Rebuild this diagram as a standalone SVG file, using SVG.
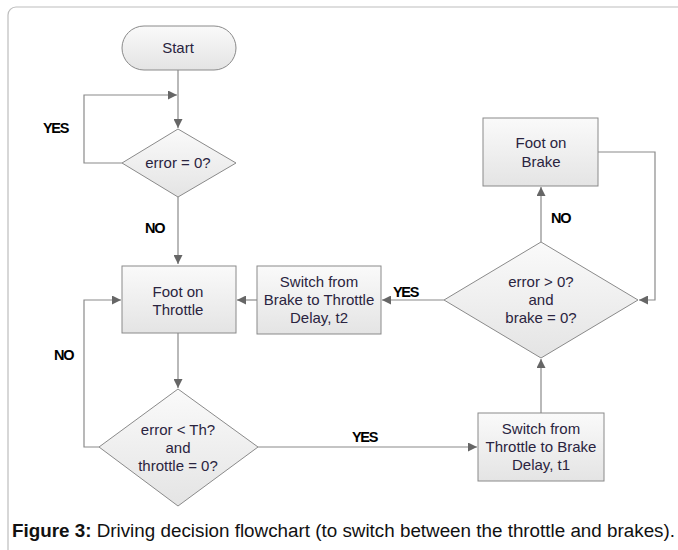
<svg xmlns="http://www.w3.org/2000/svg" width="678" height="550" viewBox="0 0 678 550">
<defs>
<linearGradient id="g" x1="0" y1="0" x2="0" y2="1">
<stop offset="0" stop-color="#fafafa"/>
<stop offset="1" stop-color="#e4e4e4"/>
</linearGradient>
<marker id="ah" viewBox="0 0 10 10" refX="10" refY="5" markerWidth="9" markerHeight="9" markerUnits="userSpaceOnUse" orient="auto">
<path d="M0,0 L10,5 L0,10 z" fill="#666"/>
</marker>
<style>
.n{fill:url(#g);stroke:#8a8a8a;stroke-width:1}
.t{font-family:"Liberation Sans",Arial,sans-serif;font-size:15px;fill:#2a2440;text-anchor:middle}
.c{fill:none;stroke:#8a8a8a;stroke-width:1.2}
.a{marker-end:url(#ah)}
.l{font-family:"Liberation Sans",Arial,sans-serif;font-size:14.5px;font-weight:bold;fill:#000;letter-spacing:-1.3px}
.cap{font-family:"Liberation Sans",Arial,sans-serif;font-size:18px;fill:#111}
</style>
</defs>
<rect x="8" y="7" width="690" height="560" rx="8" fill="#fff" stroke="#bdbdbd" stroke-width="1.2"/>
<g id="connectors">
<path class="c a" d="M178,70 V128"/>
<path class="c a" d="M122,163 H84 V95 H177"/>
<path class="c a" d="M178,197 V264"/>
<path class="c a" d="M178,333 V388"/>
<path class="c a" d="M99,447 H84 V300 H121"/>
<path class="c a" d="M258,447 H477"/>
<path class="c a" d="M541,413 V359"/>
<path class="c a" d="M444,300 H382"/>
<path class="c a" d="M257,300 H237"/>
<path class="c a" d="M541,242 V187"/>
<path class="c a" d="M598,152 H655 V300 H639"/>
</g>
<g id="labels">
<text class="l" x="43" y="133">YES</text>
<text class="l" x="145" y="233">NO</text>
<text class="l" x="54" y="360">NO</text>
<text class="l" x="352" y="442">YES</text>
<text class="l" x="393" y="297">YES</text>
<text class="l" x="551" y="223">NO</text>
</g>
<g id="start">
<rect class="n" x="122" y="26" width="114" height="44" rx="22"/>
<text class="t" x="178" y="53">Start</text>
</g>
<g id="d1">
<polygon class="n" points="178,129 236,163 178,197 122,163"/>
<text class="t" x="178" y="168">error = 0?</text>
</g>
<g id="throttle">
<rect class="n" x="122" y="266" width="114" height="67"/>
<text class="t" x="178" y="297">Foot on</text>
<text class="t" x="178" y="315">Throttle</text>
</g>
<g id="d2">
<polygon class="n" points="178,389 258,447 178,506 99,447"/>
<text class="t" x="178" y="435">error &lt; Th?</text>
<text class="t" x="178" y="453">and</text>
<text class="t" x="178" y="471">throttle = 0?</text>
</g>
<g id="b2t">
<rect class="n" x="257" y="266" width="124" height="68"/>
<text class="t" x="319" y="287">Switch from</text>
<text class="t" x="319" y="305">Brake to Throttle</text>
<text class="t" x="319" y="323">Delay, t2</text>
</g>
<g id="d3">
<polygon class="n" points="541,242 638,300 541,358 444,300"/>
<text class="t" x="541" y="287">error &gt; 0?</text>
<text class="t" x="541" y="305">and</text>
<text class="t" x="541" y="323">brake = 0?</text>
</g>
<g id="brake">
<rect class="n" x="483" y="118" width="115" height="68"/>
<text class="t" x="541" y="148">Foot on</text>
<text class="t" x="541" y="167">Brake</text>
</g>
<g id="t2b">
<rect class="n" x="478" y="413" width="126" height="68"/>
<text class="t" x="541" y="434">Switch from</text>
<text class="t" x="541" y="452">Throttle to Brake</text>
<text class="t" x="541" y="470">Delay, t1</text>
</g>
<text class="cap" x="12" y="537" textLength="663" lengthAdjust="spacingAndGlyphs"><tspan font-weight="bold">Figure 3:</tspan> Driving decision flowchart (to switch between the throttle and brakes).</text>
</svg>
